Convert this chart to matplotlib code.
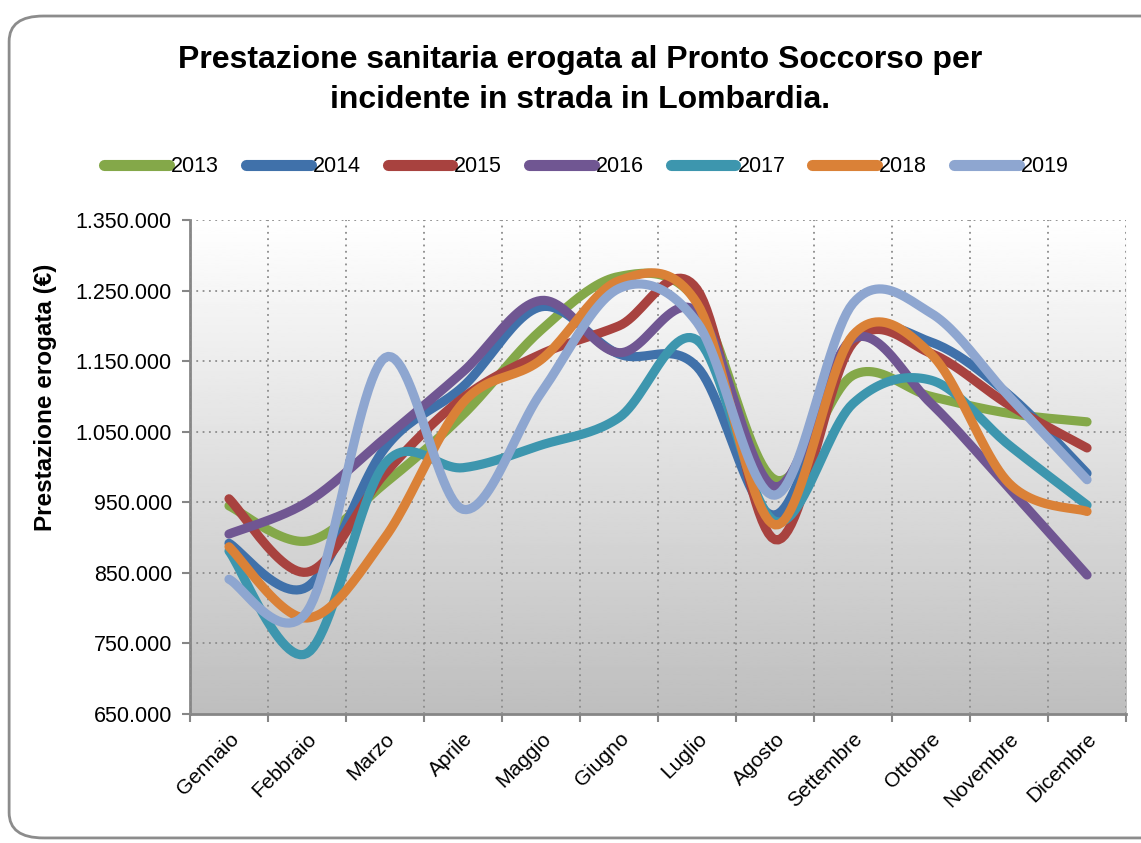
import numpy as np
import matplotlib.pyplot as plt
from matplotlib.patches import FancyBboxPatch
from matplotlib.ticker import FuncFormatter, FixedLocator

plt.rcParams['font.family'] = ['Liberation Sans Narrow', 'Liberation Sans', 'DejaVu Sans']

# data (values in euro)
mesi = ['Gennaio', 'Febbraio', 'Marzo', 'Aprile', 'Maggio', 'Giugno',
        'Luglio', 'Agosto', 'Settembre', 'Ottobre', 'Novembre', 'Dicembre']
anni = ['2013', '2014', '2015', '2016', '2017', '2018', '2019']
v2013 = [945000, 895000, 977000, 1074000, 1194000, 1270000, 1235000, 982000, 1130000, 1100000, 1076000, 1064000]
v2014 = [892000, 830000, 1027000, 1114000, 1227000, 1160000, 1142000, 932000, 1180000, 1177000, 1102000, 991000]
v2015 = [955000, 851000, 991000, 1098000, 1160000, 1200000, 1252000, 897000, 1176000, 1161000, 1088000, 1027000]
v2016 = [905000, 950000, 1041000, 1135000, 1236000, 1162000, 1220000, 972000, 1182000, 1090000, 970000, 847000]
v2017 = [881000, 736000, 1005000, 999000, 1031000, 1070000, 1180000, 923000, 1090000, 1123000, 1031000, 946000]
v2018 = [887000, 786000, 900000, 1091000, 1152000, 1264000, 1232000, 918000, 1187000, 1160000, 977000, 937000]
v2019 = [841000, 795000, 1155000, 940000, 1105000, 1253000, 1205000, 960000, 1232000, 1218000, 1100000, 982000]
serie = [v2013, v2014, v2015, v2016, v2017, v2018, v2019]
colori = ['#84A849', '#4071AA', '#A8423F', '#705692', '#3D96AE', '#DA8137', '#8EA6D0']


def smooth(x, y, n=24):
    # catmull-rom curve through the points, like excel "smoothed line"
    x = np.asarray(x, float)
    y = np.asarray(y, float)
    px = np.concatenate([[x[0]], x, [x[-1]]])
    py = np.concatenate([[y[0]], y, [y[-1]]])
    xs, ys = [], []
    t = np.linspace(0, 1, n, endpoint=False)
    for i in range(1, len(px) - 2):
        for p, out in ((px, xs), (py, ys)):
            p0, p1, p2, p3 = p[i - 1], p[i], p[i + 1], p[i + 2]
            c1 = p1 + (p2 - p0) / 6
            c2 = p2 - (p3 - p1) / 6
            out.extend((1 - t) ** 3 * p1 + 3 * (1 - t) ** 2 * t * c1
                       + 3 * (1 - t) * t ** 2 * c2 + t ** 3 * p2)
    xs.append(x[-1])
    ys.append(y[-1])
    return np.array(xs), np.array(ys)


fig = plt.figure(figsize=(11.41, 8.43), dpi=100)

# chart border
fig.patches.append(FancyBboxPatch((0.008, 0.006), 1.2, 0.975,
                                  boxstyle='round,pad=0,rounding_size=0.03',
                                  transform=fig.transFigure, fc='none',
                                  ec='#8C8C8C', lw=2, zorder=-5))

ax = fig.add_axes((0.1665, 0.153, 0.8204, 0.586))
ax.set_xlim(0, 12)
ax.set_ylim(650000, 1350000)

# gradient background
grad = np.linspace(0.745, 1.0, 256).reshape(-1, 1)
ax.imshow(grad, extent=(0, 12, 650000, 1350000), aspect='auto', cmap='gray',
          vmin=0, vmax=1, origin='lower', zorder=0)

xc = np.arange(12) + 0.5
for vals, col, lab in zip(serie, colori, anni):
    sx, sy = smooth(xc, vals)
    ax.plot(sx, sy, color=col, lw=6.6, solid_capstyle='round',
            solid_joinstyle='round', label=lab, zorder=3)

# axes style
ax.yaxis.set_major_locator(FixedLocator(np.arange(650000, 1350001, 100000)))
ax.yaxis.set_major_formatter(FuncFormatter(lambda v, p: f'{int(v):,}'.replace(',', '.')))
ax.xaxis.set_major_locator(FixedLocator(np.arange(0, 13)))
ax.xaxis.set_major_formatter(FuncFormatter(lambda v, p: ''))
ax.xaxis.set_minor_locator(FixedLocator(xc))
ax.set_xticklabels(mesi, minor=True, rotation=45, ha='right', va='top',
                   rotation_mode='anchor', fontsize=15)
ax.tick_params(axis='x', which='minor', length=0, pad=11)
ax.tick_params(axis='both', which='major', length=6, width=1.5, color='#868686',
               labelsize=15.5)
ax.tick_params(axis='y', which='major', pad=7)
ax.grid(True, which='major', ls=(0, (1, 2.5)), color='#8C8C8C', lw=1.3)
ax.set_axisbelow(False)
for s in ('top', 'right'):
    ax.spines[s].set_visible(False)
for s in ('left', 'bottom'):
    ax.spines[s].set_color('#868686')
    ax.spines[s].set_linewidth(2)

fig.text(0.04, 1 - 397 / 843, 'Prestazione erogata (€)', rotation=90,
         ha='center', va='center', fontsize=17.5, fontweight='bold')

fig.text(0.508, 1 - 80 / 843,
         'Prestazione sanitaria erogata al Pronto Soccorso per\nincidente in strada in Lombardia.',
         ha='center', va='center', fontsize=23, fontweight='bold', linespacing=1.45)

leg = fig.legend(loc='center', bbox_to_anchor=(0.514, 1 - 167 / 843), ncol=7,
                 frameon=False, fontsize=15.5, handlelength=3.0, handletextpad=0.1,
                 columnspacing=1.25)
for h in leg.legend_handles:
    h.set_linewidth(8)

fig.savefig('out.png', dpi=100)
